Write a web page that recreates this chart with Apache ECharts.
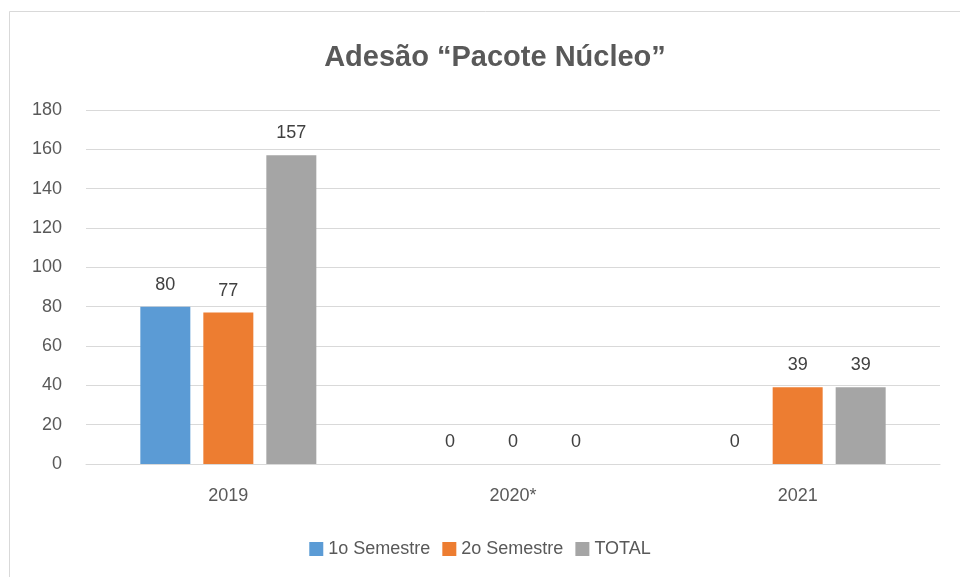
<!DOCTYPE html>
<html>
<head>
<meta charset="utf-8">
<script src="https://cdn.jsdelivr.net/npm/echarts@6/dist/echarts.min.js"></script>
<style>
  html, body { margin: 0; padding: 0; background: #fff; }
  #chart { width: 960px; height: 577px; }
</style>
</head>
<body>
<div id="chart"></div>
<script>
const years = ['2019', '2020*', '2021'];
const sem1 = [80, 0, 0];
const sem2 = [77, 0, 39];
const total = [157, 0, 39];
const yTicks = [0, 20, 40, 60, 80, 100, 120, 140, 160, 180];

const font = '"Liberation Sans", "Open Sans", sans-serif';
const textColor = '#595959';

const label = {
    show: true,
    position: 'top',
    distance: 13,
    fontSize: 18,
    color: '#404040',
    fontFamily: font
};

const chart = echarts.init(document.getElementById('chart'));
chart.setOption({
    backgroundColor: '#fff',
    animation: false,
    title: {
        text: 'Adesão “Pacote Núcleo”',
        left: 490,
        top: 38,
        textAlign: 'center',
        textStyle: { fontSize: 29, fontWeight: 'bold', color: textColor, fontFamily: font }
    },
    graphic: [{
        type: 'rect',
        shape: { x: 9.5, y: 11.5, width: 1000, height: 600 },
        style: { fill: 'none', stroke: '#d9d9d9', lineWidth: 1 },
        silent: true
    }],
    legend: {
        bottom: 14,
        left: 'center',
        itemWidth: 14,
        itemHeight: 14,
        itemGap: 12,
        icon: 'rect',
        textStyle: { fontSize: 18, color: textColor, fontFamily: font }
    },
    grid: { left: 86, right: 20, top: 110, bottom: 113 },
    xAxis: {
        type: 'category',
        data: years,
        axisLine: { lineStyle: { color: '#d9d9d9' } },
        axisTick: { show: false },
        axisLabel: { fontSize: 18, color: textColor, fontFamily: font, margin: 23 }
    },
    yAxis: {
        type: 'value',
        min: yTicks[0],
        max: yTicks[yTicks.length - 1],
        interval: 20,
        axisLine: { show: false },
        axisTick: { show: false },
        splitLine: { lineStyle: { color: '#d9d9d9' } },
        axisLabel: { fontSize: 18, color: textColor, fontFamily: font, margin: 24 }
    },
    series: [
        { name: '1o Semestre', type: 'bar', data: sem1, itemStyle: { color: '#5b9bd5' }, barWidth: 50, barGap: '26%', label },
        { name: '2o Semestre', type: 'bar', data: sem2, itemStyle: { color: '#ed7d31' }, barWidth: 50, barGap: '26%', label },
        { name: 'TOTAL', type: 'bar', data: total, itemStyle: { color: '#a5a5a5' }, barWidth: 50, barGap: '26%', label }
    ]
});
</script>
</body>
</html>
